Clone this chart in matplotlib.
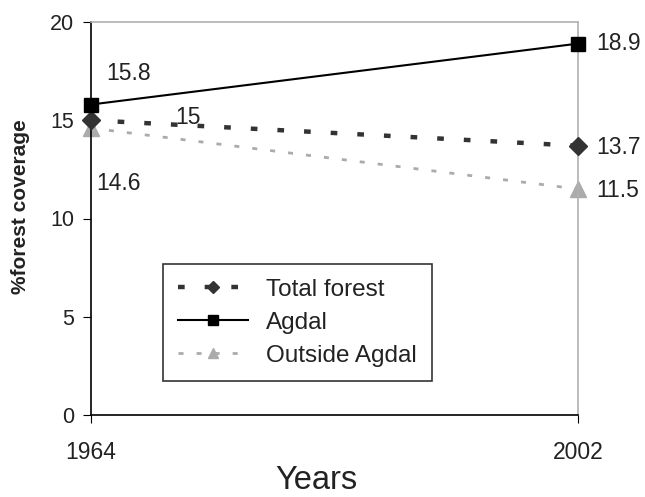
import matplotlib
matplotlib.use("Agg")
import matplotlib.pyplot as plt

plt.rcParams['font.family'] = ['Liberation Sans', 'DejaVu Sans']

years = [1964, 2002]
total_forest = [15.0, 13.7]
agdal = [15.8, 18.9]
outside_agdal = [14.6, 11.5]
labels_total = ["15", "13.7"]
labels_agdal = ["15.8", "18.9"]
labels_outside = ["14.6", "11.5"]

fig = plt.figure(figsize=(6.45, 4.97), dpi=100)
ax = fig.add_axes([91/645, 1-415/497, (578-91)/645, (415-22)/497])

ax.plot(years, total_forest, color='#333333', lw=3.2, ls=(0, (1.5, 4.5)),
        marker='D', ms=9, mfc='#333333', mec='#333333', label='Total forest', zorder=3, clip_on=False)
ax.plot(years, agdal, color='black', lw=1.5, ls='-', marker='s', ms=10,
        mfc='black', label='Agdal', zorder=4, clip_on=False)
ax.plot(years, outside_agdal, color='#ababab', lw=2, ls=(0, (1.8, 4.7)),
        marker='^', ms=11, mfc='#ababab', mec='#ababab', label='Outside Agdal', zorder=2, clip_on=False)

ax.set_xlim(1964, 2002)
ax.set_ylim(0, 20)
ax.set_xticks(years)
ax.set_yticks([0, 5, 10, 15, 20])
ax.tick_params(axis='both', direction='out', length=6, color='black', labelcolor='#222222')
ax.tick_params(axis='x', pad=13, labelsize=16.5)
ax.tick_params(axis='y', pad=6, labelsize=15.5)

for s in ['top', 'right']:
    ax.spines[s].set_color('#b0b0b0')
    ax.spines[s].set_linewidth(1.2)
for s in ['left', 'bottom']:
    ax.spines[s].set_color('black')
    ax.spines[s].set_linewidth(1.2)

ax.set_xlabel('Years', fontsize=23.5, color='#222222')
ax.xaxis.set_label_coords((316-91)/487, -0.127)
ax.set_ylabel('%forest coverage', fontsize=15, fontweight='bold', color='#222222')
ax.yaxis.set_label_coords(-0.125, 0.529)

fs = 16.5
kw = dict(textcoords='offset points', fontsize=fs, va='center', ha='left', color='#222222', annotation_clip=False)
ax.annotate(labels_agdal[0], (years[0], agdal[0]), xytext=(11, 22), **kw)
ax.annotate(labels_total[0], (years[0], total_forest[0]), xytext=(61, 2), **kw)
ax.annotate(labels_outside[0], (years[0], outside_agdal[0]), xytext=(3.5, -40), **kw)
ax.annotate(labels_agdal[1], (years[1], agdal[1]), xytext=(13, 0), **kw)
ax.annotate(labels_total[1], (years[1], total_forest[1]), xytext=(13, -1), **kw)
ax.annotate(labels_outside[1], (years[1], outside_agdal[1]), xytext=(13, -1), **kw)

leg = ax.legend(loc='upper left', bbox_to_anchor=((163-91)/487, (415-264)/393),
                borderaxespad=0, fontsize=17.5, frameon=True, fancybox=False, edgecolor='black',
                borderpad=0.6, labelspacing=0.45, handlelength=2.9, handletextpad=0.75,
                markerscale=0.7)
leg.get_frame().set_linewidth(1.2)
for t in leg.get_texts():
    t.set_color('#222222')

fig.savefig('out.png', dpi=100)
